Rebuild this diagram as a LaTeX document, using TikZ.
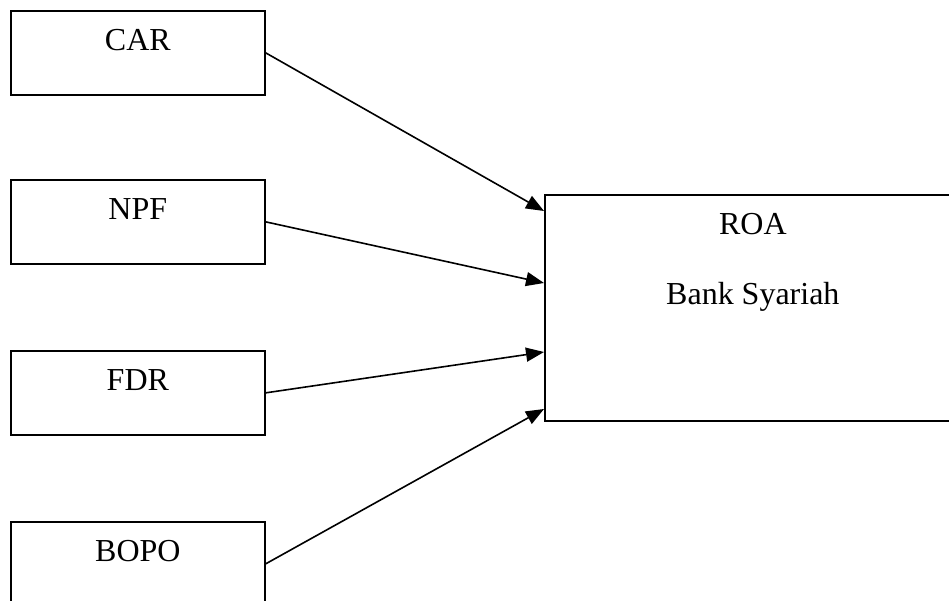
\documentclass[tikz,border=0pt]{standalone}
\usepackage{fontspec}
\setmainfont{Liberation Serif}
\usetikzlibrary{arrows.meta}

\tikzset{
  varbox/.style={draw, line width=1.7pt, anchor=north west, inner sep=0pt,
    minimum width=254pt, text height=40pt, text depth=44pt,
    font=\fontsize{32}{38}\selectfont},
  resbox/.style={draw, line width=1.7pt, anchor=north west, inner sep=0pt,
    minimum width=416pt, text height=110pt, text depth=116pt, align=center,
    font=\fontsize{32}{70}\selectfont},
  link/.style={line width=1.6pt, -{Triangle[length=18pt, width=14pt]}}
}

\begin{document}
\begin{tikzpicture}[x=1pt, y=-1pt]
	\clip (0, 0) rectangle (949, 601) ;

	% independent variables
	\node[varbox] (car)  at (10, 10)  {CAR} ;
	\node[varbox] (npf)  at (10, 179) {NPF} ;
	\node[varbox] (fdr)  at (10, 350) {FDR} ;
	\node[varbox] (bopo) at (10, 521) {BOPO} ;

	% dependent variable
	\node[resbox] (roa) at (544, 194) {ROA\\Bank Syariah} ;

	\coordinate (inCar)  at ([yshift=-17pt]roa.north west) ;
	\coordinate (inNpf)  at ([yshift=-89pt]roa.north west) ;
	\coordinate (inFdr)  at ([yshift=-158pt]roa.north west) ;
	\coordinate (inBopo) at ([yshift=-215pt]roa.north west) ;

	\draw[link] (car.east)  -- (inCar) ;
	\draw[link] (npf.east)  -- (inNpf) ;
	\draw[link] (fdr.east)  -- (inFdr) ;
	\draw[link] (bopo.east) -- (inBopo) ;
\end{tikzpicture}
\end{document}
